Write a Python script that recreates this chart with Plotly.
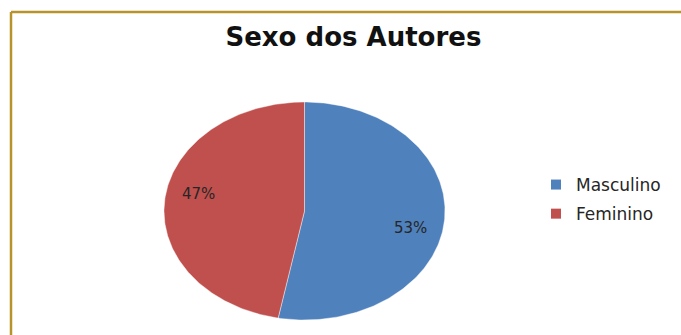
import numpy as np
import plotly.graph_objects as go

categories = ["Masculino", "Feminino"]
values = [53, 47]
colors = ["#4F81BD", "#C0504D"]
title_text = "Sexo dos Autores"

W, H = 681, 335
cx, cy, rx, ry = 304.5, 211.0, 140.5, 109.0
label_f = 0.77
label_rot = np.deg2rad(6)

fig = go.Figure()
total = sum(values)
start = 0.0
for cat, val, col in zip(categories, values, colors):
    frac = val / total
    th = np.linspace(start, start + frac, 200) * 2 * np.pi
    xs = np.concatenate([[cx], cx + rx * np.sin(th), [cx]])
    ys = np.concatenate([[cy], cy - ry * np.cos(th), [cy]])
    fig.add_trace(go.Scatter(
        x=xs, y=ys, mode="lines", fill="toself", fillcolor=col,
        line=dict(color="rgba(255,255,255,0.6)", width=0.7),
        name=cat, hoverinfo="name", showlegend=False))
    mid = (start + frac / 2) * 2 * np.pi + label_rot
    fig.add_annotation(
        x=cx + rx * label_f * np.sin(mid),
        y=cy - ry * label_f * np.cos(mid),
        text=f"{round(frac * 100)}%", showarrow=False,
        font=dict(family="DejaVu Sans", size=15, color="#262626"))
    start += frac

# legend entries (square swatches)
for cat, col in zip(categories, colors):
    fig.add_trace(go.Scatter(
        x=[None], y=[None], mode="markers", name=cat, legendgroup=cat,
        marker=dict(symbol="square", size=10, color=col)))

fig.update_layout(
    width=W, height=H,
    margin=dict(l=0, r=0, t=0, b=0),
    paper_bgcolor="white", plot_bgcolor="white",
    xaxis=dict(range=[0, W], visible=False, fixedrange=True),
    yaxis=dict(range=[H, 0], visible=False, fixedrange=True),
    title=dict(text=f"<b>{title_text}</b>", x=0.519, xanchor="center",
               y=1 - 37 / H, yanchor="middle", yref="container",
               font=dict(family="DejaVu Sans", size=26, color="#111111")),
    legend=dict(x=536 / W, y=1 - 167 / H, xanchor="left", yanchor="top",
                font=dict(family="DejaVu Sans", size=17, color="#262626"),
                bgcolor="rgba(0,0,0,0)", itemwidth=30, tracegroupgap=4),
    showlegend=True,
    shapes=[
        dict(type="line", xref="paper", yref="paper", x0=11 / W, x1=11 / W,
             y0=0, y1=1 - 12 / H, line=dict(color="#B8922A", width=2.5)),
        dict(type="line", xref="paper", yref="paper", x0=11 / W, x1=1,
             y0=1 - 12 / H, y1=1 - 12 / H, line=dict(color="#B8922A", width=2.5)),
    ],
)

fig.write_html("out.html")
